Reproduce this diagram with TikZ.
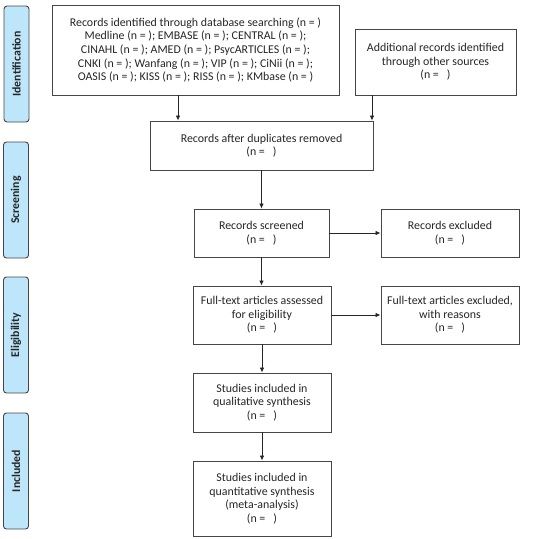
\documentclass[tikz,border=0pt]{standalone}
\usepackage{fontspec}
\setmainfont{Carlito}
\usetikzlibrary{arrows.meta}
\definecolor{sidefill}{RGB}{190,230,250}
\definecolor{boxline}{RGB}{70,70,70}
\begin{document}
\begin{tikzpicture}[x=1pt,y=-1pt,
  box/.style={draw=boxline,line width=0.9pt,fill=white,align=center,inner sep=2pt,
    font=\fontsize{11.9}{13.6}\selectfont,text=black!85},
  side/.style={draw=boxline,line width=0.9pt,fill=sidefill,rounded corners=3pt,
    minimum width=116pt,minimum height=25pt,rotate=90,text=black!85,
    font=\fontsize{11.8}{13}\selectfont\bfseries},
  arr/.style={-{Latex[length=5pt,width=4.5pt]},line width=0.8pt,draw=black!85}]
\useasboundingbox (0,0) rectangle (550,539);
% side labels
\node[side] (sid) at (16.5,64) {Identification};
\node[side] (sscr) at (16,200) {Screening};
\node[side] (selig) at (16,335) {Eligibility};
\node[side] (sinc) at (16,471) {Included};
% boxes
\node[box,minimum width=287pt,minimum height=90pt] (top) at (195.5,50)
 {Records identified through database searching (n = )\\
  Medline (n = ); EMBASE (n = ); CENTRAL (n = );\\
  CINAHL (n = ); AMED (n = ); PsycARTICLES (n = );\\
  CNKI (n = ); Wanfang (n = ); VIP (n = ); CiNii (n = );\\
  OASIS (n = ); KISS (n = ); RISS (n = ); KMbase (n = )};
\node[box,minimum width=161pt,minimum height=66pt] (add) at (435.5,62)
 {Additional records identified\\through other sources\\(n =\ \ \ )};
\node[box,minimum width=223pt,minimum height=49pt] (dup) at (261.5,145.5)
 {Records after duplicates removed\\(n =\ \ \ )};
\node[box,minimum width=135pt,minimum height=48pt] (scr) at (261.5,233)
 {Records screened\\(n =\ \ \ )};
\node[box,minimum width=138pt,minimum height=48pt] (exc) at (450,233)
 {Records excluded\\(n =\ \ \ )};
\node[box,minimum width=138pt,minimum height=58pt] (ft) at (262,315)
 {Full-text articles assessed\\for eligibility\\(n =\ \ \ )};
\node[box,minimum width=138pt,minimum height=58pt] (ftx) at (450,315)
 {Full-text articles excluded,\\with reasons\\(n =\ \ \ )};
\node[box,minimum width=138pt,minimum height=59pt] (qual) at (262,402.5)
 {Studies included in\\qualitative synthesis\\(n =\ \ \ )};
\node[box,minimum width=138pt,minimum height=75pt] (quant) at (262,498.5)
 {Studies included in\\quantitative synthesis\\(meta-analysis)\\(n =\ \ \ )};
% arrows
\draw[arr] (top.south -| 178,0) -- (dup.north -| 178,0);
\draw[arr] (add.south -| 372,0) -- (dup.north -| 372,0);
\draw[arr] (dup.south -| scr.north) -- (scr.north);
\draw[arr] (scr.east) -- (exc.west);
\draw[arr] (scr.south) -- (ft.north -| scr.south);
\draw[arr] (ft.east) -- (ftx.west);
\draw[arr] (ft.south) -- (qual.north);
\draw[arr] (qual.south) -- (quant.north);
\end{tikzpicture}
\end{document}
